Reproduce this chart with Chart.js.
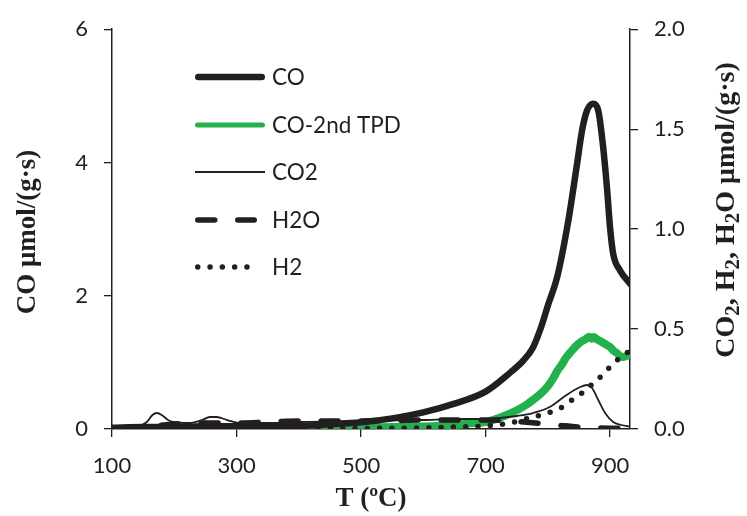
<!DOCTYPE html>
<html>
<head>
<meta charset="utf-8">
<script src="https://cdn.jsdelivr.net/npm/chart.js@4.4.0/dist/chart.umd.min.js"></script>
<style>
  html, body { margin: 0; padding: 0; background: #fff; }
  #wrap { width: 747px; height: 516px; position: relative; }
</style>
</head>
<body>
<div id="wrap"><canvas id="c"></canvas></div>
<script>
// ---- data ----
const xTicks = [100, 300, 500, 700, 900];
const coTicks = [0, 2, 4, 6];
const gasTicks = [0, 0.5, 1.0, 1.5, 2.0];

// CO (left axis)
const coT   = [100, 150, 200, 250, 300, 350, 400, 450, 500, 550, 600, 650, 700, 740, 760, 776, 790, 800, 815, 833, 847, 855, 863, 873, 881, 889, 895, 900, 905, 916, 932];
const coVal = [0.02, 0.03, 0.03, 0.04, 0.04, 0.05, 0.05, 0.07, 0.10, 0.16, 0.25, 0.38, 0.56, 0.85, 1.02, 1.22, 1.55, 1.85, 2.28, 3.13, 3.98, 4.48, 4.78, 4.88, 4.78, 4.22, 3.62, 3.02, 2.63, 2.38, 2.18];

// CO second TPD (right axis)
const co2ndT   = [338, 400, 450, 500, 550, 600, 650, 680, 700, 712, 730, 751, 765, 776, 788, 799, 808, 815, 822, 830, 838, 847, 855, 861, 866, 870, 874, 879, 884, 892, 900, 906, 911, 916, 921, 926, 930];
const co2ndVal = [0.005, 0.005, 0.005, 0.008, 0.01, 0.012, 0.02, 0.03, 0.035, 0.045, 0.065, 0.095, 0.12, 0.145, 0.175, 0.21, 0.25, 0.29, 0.32, 0.36, 0.39, 0.42, 0.44, 0.45, 0.462, 0.452, 0.46, 0.448, 0.44, 0.425, 0.41, 0.39, 0.38, 0.365, 0.36, 0.365, 0.37];

// CO2 (right axis)
const co2T   = [118, 140, 156, 165, 172, 180, 190, 198, 225, 245, 257, 268, 285, 305, 359, 400, 500, 600, 650, 700, 723, 750, 776, 803, 830, 852, 863, 871, 881, 892, 905, 918, 932];
const co2Val = [0.0, 0.01, 0.035, 0.07, 0.08, 0.07, 0.045, 0.035, 0.03, 0.045, 0.06, 0.06, 0.045, 0.03, 0.03, 0.035, 0.04, 0.045, 0.05, 0.05, 0.055, 0.065, 0.08, 0.11, 0.17, 0.21, 0.22, 0.205, 0.145, 0.08, 0.035, 0.02, 0.012];

// H2O (right axis)
const h2oT   = [115, 150, 200, 250, 300, 350, 400, 450, 500, 550, 600, 650, 700, 740, 780, 820, 860, 900, 932];
const h2oVal = [0.005, 0.01, 0.025, 0.03, 0.03, 0.035, 0.04, 0.04, 0.04, 0.042, 0.045, 0.045, 0.045, 0.04, 0.03, 0.018, 0.008, 0.004, 0.003];

// H2 (right axis)
const h2T   = [115, 200, 300, 400, 500, 600, 650, 700, 739, 776, 800, 823, 839, 855, 868, 881, 895, 908, 921, 932];
const h2Val = [0.0, 0.0, 0.0, 0.002, 0.003, 0.005, 0.01, 0.015, 0.03, 0.06, 0.08, 0.11, 0.145, 0.18, 0.215, 0.25, 0.295, 0.335, 0.37, 0.39];

const pts = (xs, ys) => xs.map((x, i) => ({ x, y: ys[i] }));

const INK = '#231f20';
const GREEN = '#22b14c';
const SANS = "Lato, 'Open Sans', sans-serif";
const SERIF = "'Liberation Serif', 'Times New Roman', serif";
const tickFont = { family: SANS, size: 22 };

// legend entries drawn inside the plot
const legendItems = [
  { label: 'CO',          color: INK,   width: 6.5, dash: [],        cap: 'round', x2: 265, y: 77 },
  { label: 'CO-2nd TPD',  color: GREEN, width: 5,   dash: [],        cap: 'round', x2: 265, y: 125 },
  { label: 'CO2',         color: INK,   width: 1.8, dash: [],        cap: 'butt',  x2: 265, y: 172 },
  { label: 'H2O',         color: INK,   width: 5.5, dash: [17, 23],  cap: 'round', x2: 257, y: 220 },
  { label: 'H2',          color: INK,   width: 5.5, dash: [0, 12.3], cap: 'round', x2: 257, y: 267 }
];

const legendPlugin = {
  id: 'plotLegend',
  afterDatasetsDraw(chart) {
    const ctx = chart.ctx;
    ctx.save();
    legendItems.forEach(it => {
      ctx.beginPath();
      ctx.strokeStyle = it.color;
      ctx.lineWidth = it.width;
      ctx.lineCap = it.cap;
      ctx.setLineDash(it.dash);
      const x1 = 195 + (it.cap === 'round' ? it.width / 2 : 0);
      const x2 = it.x2 - (it.cap === 'round' ? it.width / 2 : 0);
      ctx.moveTo(x1, it.y);
      ctx.lineTo(x2, it.y);
      ctx.stroke();
      ctx.setLineDash([]);
      ctx.fillStyle = INK;
      ctx.font = '22.5px ' + SANS;
      ctx.textAlign = 'left';
      ctx.textBaseline = 'middle';
      ctx.fillText(it.label, 272, it.y + 1);
    });
    ctx.restore();
  }
};

// y axis titles (right one has subscripts and reads bottom-to-top)
const titlePlugin = {
  id: 'yTitles',
  afterDraw(chart) {
    const ctx = chart.ctx;
    const drawRot = (parts, cx, cy, size, subSize) => {
      const big = 'bold ' + size + 'px ' + SERIF;
      const small = 'bold ' + subSize + 'px ' + SERIF;
      ctx.save();
      ctx.translate(cx, cy);
      ctx.rotate(-Math.PI / 2);
      ctx.fillStyle = INK;
      ctx.textBaseline = 'middle';
      ctx.textAlign = 'left';
      let w = 0;
      parts.forEach(p => { ctx.font = p[1] ? small : big; w += ctx.measureText(p[0]).width; });
      let x = -w / 2;
      parts.forEach(p => {
        ctx.font = p[1] ? small : big;
        ctx.fillText(p[0], x, p[1] ? 7 : 0);
        x += ctx.measureText(p[0]).width;
      });
      ctx.restore();
    };
    drawRot([['CO \u03bcmol/(g\u00b7s)', false]], 28, 232, 27, 19);
    drawRot([['CO', false], ['2', true], [', H', false], ['2', true], [', H', false], ['2', true], ['O \u03bcmol/(g\u00b7s)', false]], 727, 210, 28, 21);
  }
};

const lineDs = (label, data, axis, color, width, extra) => Object.assign({
  label, data, yAxisID: axis,
  borderColor: color, backgroundColor: color,
  borderWidth: width, pointRadius: 0, fill: false,
  cubicInterpolationMode: 'monotone'
}, extra || {});

new Chart(document.getElementById('c'), {
  type: 'line',
  data: {
    datasets: [
      lineDs('CO', pts(coT, coVal), 'yCO', INK, 6.5, { order: 0, borderCapStyle: 'round', borderJoinStyle: 'round' }),
      lineDs('H2O', pts(h2oT, h2oVal), 'yGas', INK, 5.5, { order: 1, borderDash: [17, 23], borderCapStyle: 'round' }),
      lineDs('CO2', pts(co2T, co2Val), 'yGas', INK, 1.8, { order: 2 }),
      lineDs('H2', pts(h2T, h2Val), 'yGas', INK, 5.5, { order: 3, borderDash: [0, 12.3], borderCapStyle: 'round' }),
      lineDs('CO-2nd TPD', pts(co2ndT, co2ndVal), 'yGas', GREEN, 8, { order: 4, borderCapStyle: 'round', borderJoinStyle: 'round' })
    ]
  },
  options: {
    responsive: true,
    maintainAspectRatio: false,
    animation: false,
    layout: { padding: { top: 28, left: 0, right: 0, bottom: 0 } },
    plugins: { legend: { display: false }, tooltip: { enabled: false } },
    scales: {
      x: {
        type: 'linear', min: 100, max: 932,
        afterBuildTicks: s => { s.ticks = xTicks.map(v => ({ value: v })); },
        afterFit: s => { s.height = 87; },
        border: { display: true, color: INK, width: 1.5 },
        grid: { drawOnChartArea: false, drawTicks: true, tickLength: 8, color: INK, lineWidth: 1.3 },
        ticks: { font: tickFont, color: INK, padding: 16, maxRotation: 0 },
        title: {
          display: true, text: 'T (\u00baC)', color: INK,
          font: { family: SERIF, size: 27, weight: 'bold' },
          padding: { top: 0, bottom: 1 }
        }
      },
      yCO: {
        type: 'linear', position: 'left', min: 0, max: 6,
        afterBuildTicks: s => { s.ticks = coTicks.map(v => ({ value: v })); },
        afterFit: s => { s.width = 112; },
        border: { display: true, color: INK, width: 1.5 },
        grid: { drawOnChartArea: false, drawTicks: true, tickLength: 8, color: INK, lineWidth: 1.3 },
        ticks: { font: tickFont, color: INK, padding: 16, callback: v => String(v) }
      },
      yGas: {
        type: 'linear', position: 'right', min: 0, max: 2,
        afterBuildTicks: s => { s.ticks = gasTicks.map(v => ({ value: v })); },
        afterFit: s => { s.width = 117; },
        border: { display: true, color: INK, width: 1.5 },
        grid: { drawOnChartArea: false, drawTicks: true, tickLength: 8, color: INK, lineWidth: 1.3 },
        ticks: { font: tickFont, color: INK, padding: 16, callback: v => v.toFixed(1) }
      }
    }
  },
  plugins: [legendPlugin, titlePlugin]
});
</script>
</body>
</html>
